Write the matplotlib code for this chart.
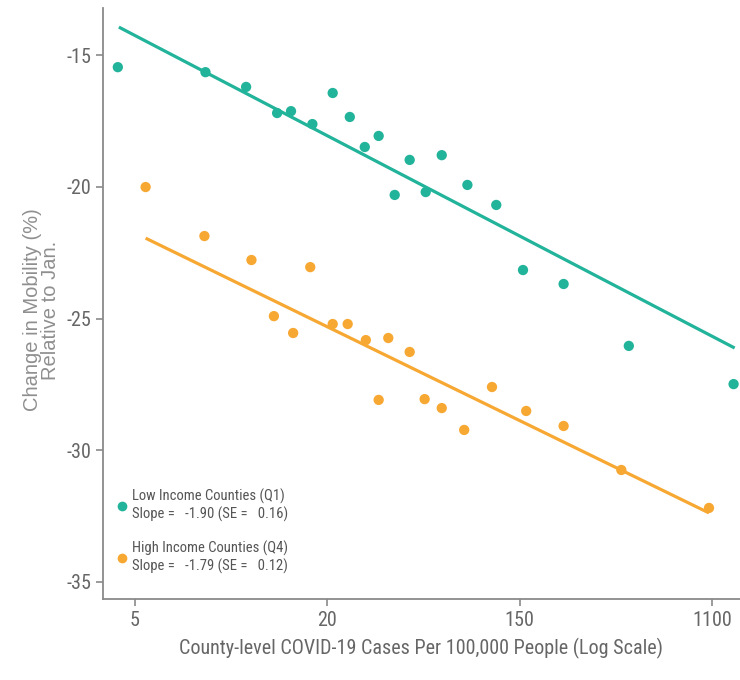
"""
Mobility change vs. county COVID-19 cases, low vs high income counties
"""

import matplotlib
matplotlib.use("Agg")
import matplotlib.pyplot as plt
from matplotlib.lines import Line2D

plt.rcParams["axes.unicode_minus"] = False

NARROW = ["Roboto Condensed", "Liberation Sans Narrow", "Roboto", "DejaVu Sans"]

# x values are positions on the log-case axis (natural log units)
tick_pos = [1.6, 3.4, 5.2, 7.0]
tick_labels = ["5", "20", "150", "1100"]

low_x = [1.44, 2.26, 2.64, 2.93, 3.06, 3.26, 3.45, 3.61, 3.75, 3.88,
         4.17, 4.47, 4.71, 4.03, 4.32, 4.98, 5.23, 5.61, 6.22, 7.20]
low_y = [-15.46, -15.65, -16.21, -17.20, -17.13, -17.62, -16.44, -17.35, -18.49, -18.07,
         -18.98, -18.80, -19.93, -20.31, -20.20, -20.69, -23.16, -23.69, -26.04, -27.49]

high_x = [1.70, 2.25, 2.69, 3.24, 2.90, 3.08, 3.45, 3.59, 3.76, 3.97,
          4.17, 3.88, 4.31, 4.47, 4.68, 4.94, 5.26, 5.61, 6.15, 6.97]
high_y = [-20.01, -21.87, -22.78, -23.05, -24.91, -25.55, -25.21, -25.21, -25.82, -25.74,
          -26.27, -28.09, -28.06, -28.40, -29.23, -27.60, -28.51, -29.08, -30.75, -32.19]

# fitted lines (end points)
low_fit_x = [1.45, 7.21]
low_fit_y = [-13.94, -26.12]
high_fit_x = [1.70, 6.97]
high_fit_y = [-21.95, -32.38]

low_label = "Low Income Counties (Q1)\nSlope =   -1.90 (SE =   0.16)"
high_label = "High Income Counties (Q4)\nSlope =   -1.79 (SE =   0.12)"

TEAL = "#22b39b"
ORANGE = "#f7a832"
GREY = "#666666"

fig = plt.figure(figsize=(7.4, 6.8), dpi=100)
ax = fig.add_axes([0.139, 0.119, 0.861, 0.869])

ax.plot(low_fit_x, low_fit_y, color=TEAL, lw=2.3, solid_capstyle="butt")
ax.plot(high_fit_x, high_fit_y, color=ORANGE, lw=2.3, solid_capstyle="butt")
ax.scatter(low_x, low_y, s=55, color=TEAL, edgecolors="none", zorder=3)
ax.scatter(high_x, high_y, s=55, color=ORANGE, edgecolors="none", zorder=3)

ax.set_xlim(1.30, 7.26)
ax.set_ylim(-35.65, -13.22)
ax.set_xticks(tick_pos)
ax.set_xticklabels(tick_labels)
ax.set_yticks([-15, -20, -25, -30, -35])

for side in ["top", "right"]:
    ax.spines[side].set_visible(False)
for side in ["left", "bottom"]:
    ax.spines[side].set_color("#8a8a8a")
    ax.spines[side].set_linewidth(1.3)

ax.tick_params(colors="#8a8a8a", length=5, width=1.2, labelcolor=GREY, labelsize=14.5)
for lab in ax.get_xticklabels() + ax.get_yticklabels():
    lab.set_family(NARROW)

ax.set_xlabel("County-level COVID-19 Cases Per 100,000 People (Log Scale)",
              family=NARROW, fontsize=14.5, color=GREY, labelpad=6)
ax.set_ylabel("Change in Mobility (%)\nRelative to Jan.",
              family=["Liberation Sans", "DejaVu Sans"], fontsize=14.5,
              color="#8f8f8f", linespacing=0.9)
ax.yaxis.set_label_coords(-0.068, 0.489)

handles = [Line2D([], [], ls="none", marker="o", ms=7, color=TEAL, mec="none"),
           Line2D([], [], ls="none", marker="o", ms=7, color=ORANGE, mec="none")]
leg = ax.legend(handles, [low_label, high_label], loc="lower left",
                bbox_to_anchor=(0.0, 0.025), frameon=False,
                prop={"family": NARROW, "size": 10.5}, labelcolor="#555555",
                handletextpad=0.1, handlelength=1.2, labelspacing=1.3,
                borderaxespad=0.3)

fig.savefig("out.png", dpi=100)
